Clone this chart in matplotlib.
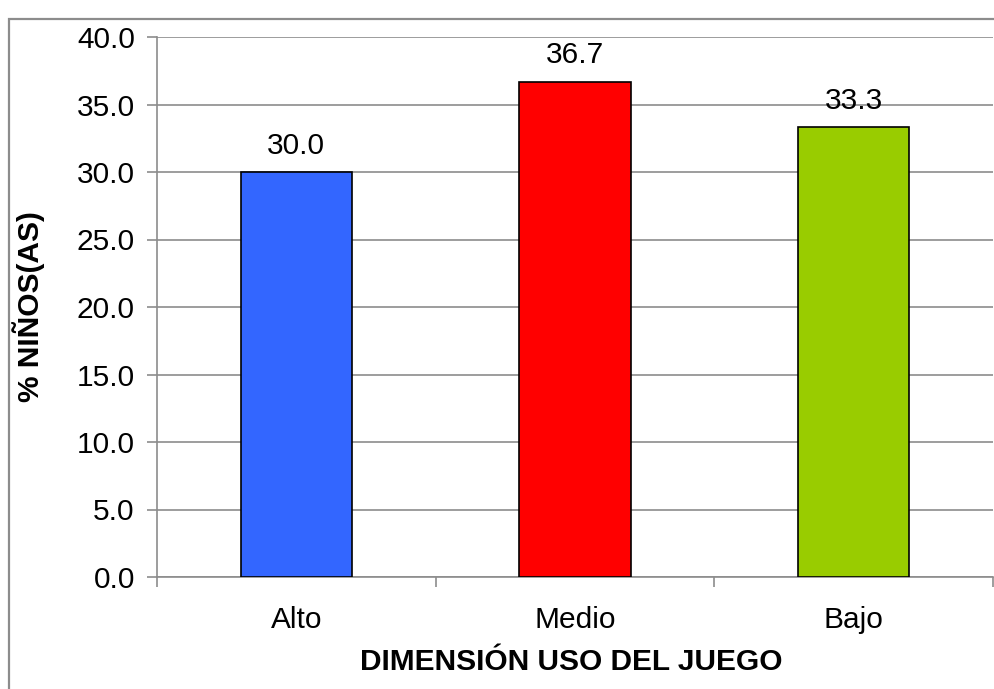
import matplotlib.pyplot as plt
from matplotlib.patches import Rectangle
from matplotlib.ticker import FixedLocator

plt.rcParams['font.family'] = ['Liberation Sans', 'DejaVu Sans']

# data
categories = ["Alto", "Medio", "Bajo"]
values = [30.0, 36.7, 33.3]
colors = ["#3366FF", "#FF0000", "#99CC00"]

fig = plt.figure(figsize=(9.94, 6.89), dpi=100)
ax = fig.add_axes([157/994, 1-577/689, 836/994, 540/689])

# outer chart border (runs off right and bottom edge)
fig.patches.append(Rectangle((9/994, -0.05), 1.2, 1 - 19/689 + 0.05,
                             transform=fig.transFigure, fill=False,
                             edgecolor="#8c8c8c", linewidth=1.6))

x = range(len(categories))
bars = ax.bar(x, values, width=0.4, color=colors, edgecolor="black",
              linewidth=1.2, zorder=3)

for b, v in zip(bars, values):
    ax.text(b.get_x() + b.get_width()/2, v + 0.9, f"{v:.1f}",
            ha="center", va="bottom", fontsize=21.5)

ax.set_xlim(-0.5, 2.5)
ax.set_ylim(0, 40)
ax.set_yticks([i*5 for i in range(9)])
ax.set_yticklabels([f"{i*5:.1f}" for i in range(9)])
ax.set_xticks(list(x))
ax.set_xticklabels(categories)
ax.xaxis.set_minor_locator(FixedLocator([-0.5, 0.5, 1.5, 2.5]))

ax.yaxis.grid(True, color="#8c8c8c", linewidth=1.2, zorder=0)
ax.set_axisbelow(True)

for s in ["top", "right"]:
    ax.spines[s].set_visible(False)
for s in ["left", "bottom"]:
    ax.spines[s].set_color("#8c8c8c")
    ax.spines[s].set_linewidth(1.2)

ax.tick_params(axis="y", direction="out", length=7, width=1.2,
               color="#8c8c8c", labelsize=21.5, pad=9)
ax.tick_params(axis="x", which="major", length=0, labelsize=21.5, pad=21)
ax.tick_params(axis="x", which="minor", direction="out", length=7,
               width=1.2, color="#8c8c8c")

ax.set_xlabel("DIMENSIÓN USO DEL JUEGO", fontsize=21.5, fontweight="bold")
ax.xaxis.set_label_coords(0.496, -0.132)
ax.set_ylabel("% NIÑOS(AS)", fontsize=21.5, fontweight="bold")
ax.yaxis.set_label_coords(-0.134, 0.5)

fig.savefig("out.png", dpi=100)
